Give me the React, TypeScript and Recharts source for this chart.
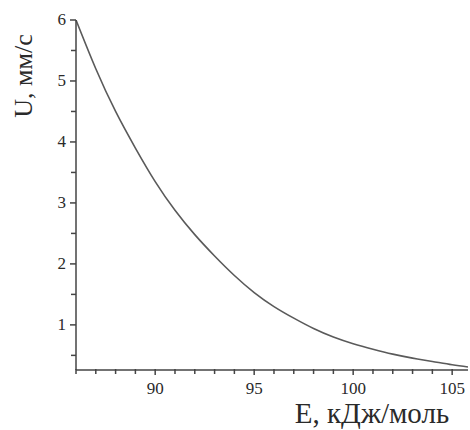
import { Line, LineChart, XAxis, YAxis, Label } from "recharts";

// E, кДж/моль
const energy = [86, 87, 88, 89, 90, 91, 92, 93, 94, 95, 96, 97, 98, 99, 100, 101, 102, 103, 104, 105, 105.8];
// U, мм/с
const speed = [6.0, 5.2, 4.5, 3.9, 3.35, 2.88, 2.48, 2.13, 1.81, 1.53, 1.3, 1.11, 0.94, 0.8, 0.69, 0.6, 0.52, 0.455, 0.4, 0.345, 0.31];

const xTicks = [86, 87, 88, 89, 90, 91, 92, 93, 94, 95, 96, 97, 98, 99, 100, 101, 102, 103, 104, 105];
const xLabels = [90, 95, 100, 105];
const yTicks = [0.5, 1, 1.5, 2, 2.5, 3, 3.5, 4, 4.5, 5, 5.5, 6];
const yLabels = [1, 2, 3, 4, 5, 6];

const data = energy.map((e, i) => ({ e, u: speed[i] }));

const FONT = "'Liberation Serif', 'Times New Roman', serif";
const AXIS = "#444";
const TEXT = "#2a2a2a";

function XTick(props: any) {
  const { x, y, payload } = props;
  const major = xLabels.includes(payload.value);
  return (
    <g>
      <line x1={x} y1={y - 1} x2={x} y2={y + (major ? 5 : 4)} stroke={AXIS} strokeWidth={1.5} />
      {major && (
        <text x={x} y={y + 24} textAnchor="middle" fontSize={17} fontFamily={FONT} fill={TEXT}>
          {payload.value}
        </text>
      )}
    </g>
  );
}

function YTick(props: any) {
  const { x, y, payload } = props;
  const major = yLabels.includes(payload.value);
  return (
    <g>
      <line x1={x - (major ? 6 : 5)} y1={y} x2={x} y2={y} stroke={AXIS} strokeWidth={1.5} />
      {major && (
        <text x={x - 10} y={y + 5} textAnchor="end" fontSize={17} fontFamily={FONT} fill={TEXT}>
          {payload.value}
        </text>
      )}
    </g>
  );
}

export default function App() {
  return (
    <div style={{ position: "absolute", left: 0, top: 0, background: "#fff" }}>
      <LineChart width={470} height={430} data={data} margin={{ top: 20, right: 2, left: 36, bottom: 30 }}>
        <XAxis
          dataKey="e"
          type="number"
          domain={[86, 105.8]}
          ticks={xTicks}
          interval={0}
          tickSize={0}
          tickMargin={0}
          tick={<XTick />}
          axisLine={{ stroke: AXIS, strokeWidth: 1.5 }}
          height={30}
        >
          <Label
            content={() => (
              <text x={372} y={423} textAnchor="middle" fontSize={29} fontFamily={FONT} fill={TEXT}>
                E, кДж/моль
              </text>
            )}
          />
        </XAxis>
        <YAxis
          type="number"
          domain={[0.26, 6]}
          ticks={yTicks}
          interval={0}
          tickSize={0}
          tickMargin={0}
          tick={<YTick />}
          axisLine={{ stroke: AXIS, strokeWidth: 1.5 }}
          width={40}
          allowDataOverflow
        >
          <Label
            content={() => (
              <text
                x={32}
                y={76}
                transform="rotate(-90 32 76)"
                textAnchor="middle"
                fontSize={26}
                fontFamily={FONT}
                fill={TEXT}
              >
                U, мм/с
              </text>
            )}
          />
        </YAxis>
        <Line
          dataKey="u"
          type="natural"
          stroke="#5a5a5a"
          strokeWidth={1.6}
          dot={false}
          isAnimationActive={false}
        />
      </LineChart>
    </div>
  );
}
